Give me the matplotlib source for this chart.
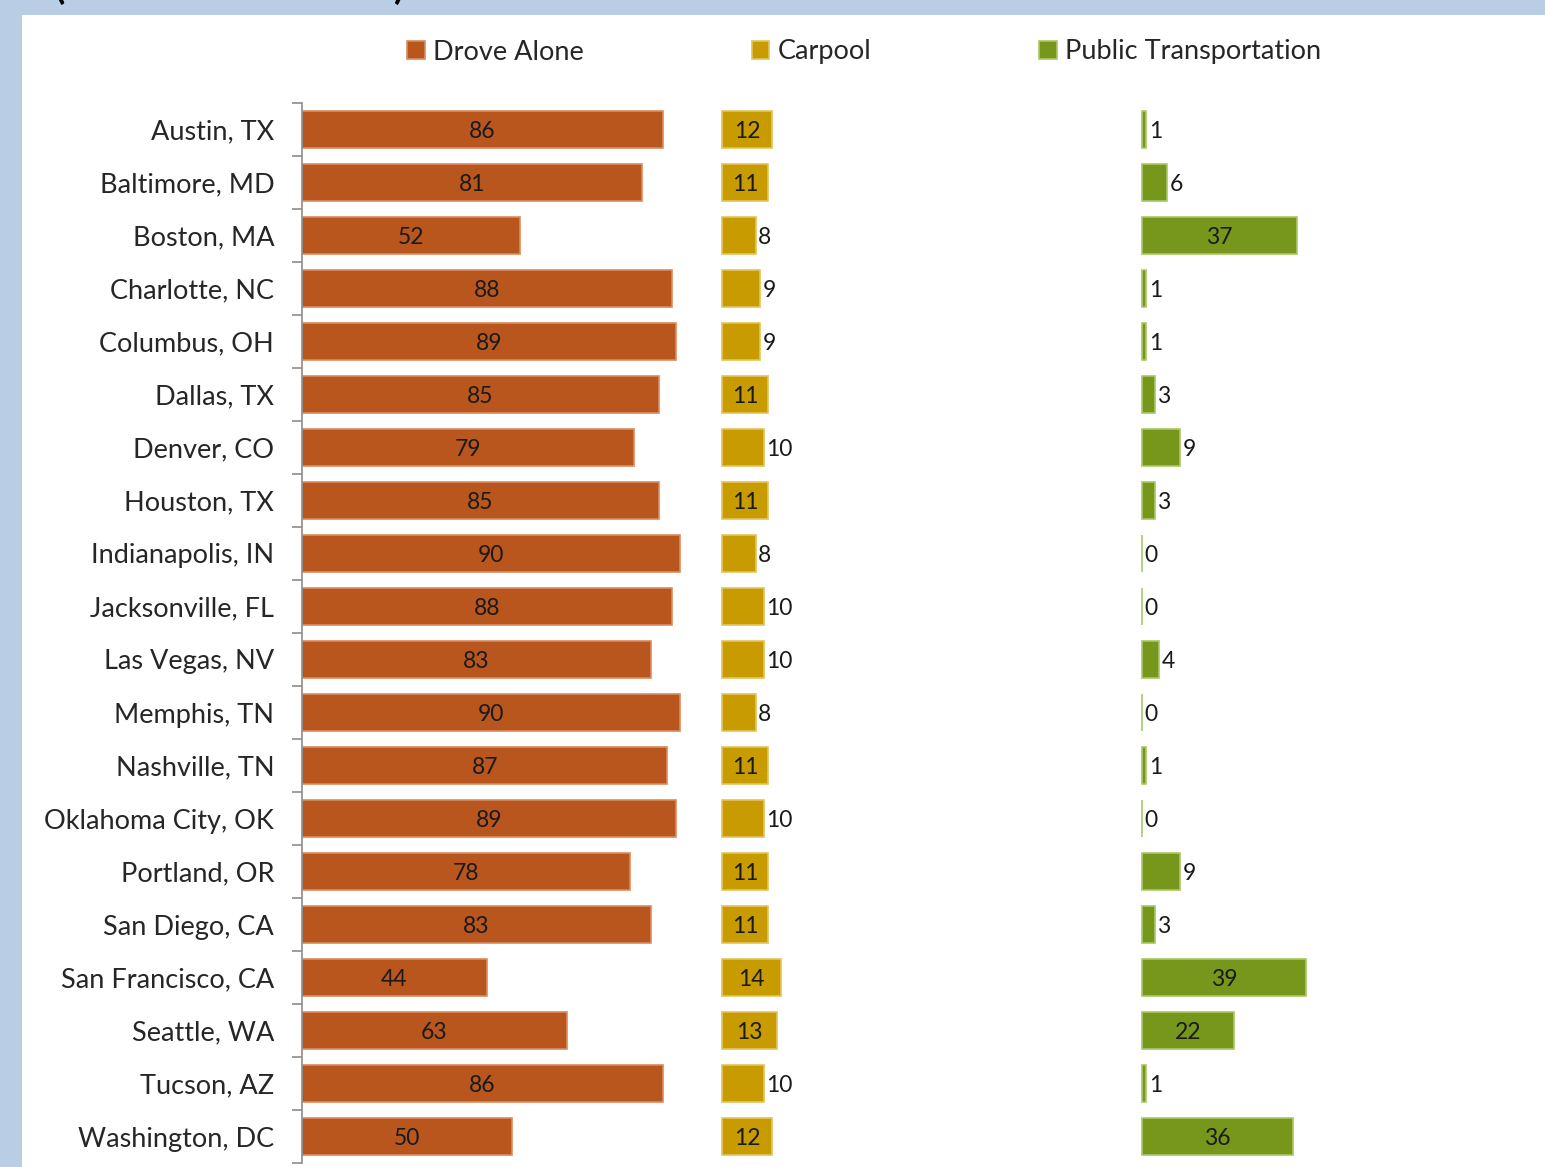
import matplotlib.pyplot as plt
from matplotlib.patches import Rectangle

cities = ["Austin, TX", "Baltimore, MD", "Boston, MA", "Charlotte, NC", "Columbus, OH",
          "Dallas, TX", "Denver, CO", "Houston, TX", "Indianapolis, IN", "Jacksonville, FL",
          "Las Vegas, NV", "Memphis, TN", "Nashville, TN", "Oklahoma City, OK", "Portland, OR",
          "San Diego, CA", "San Francisco, CA", "Seattle, WA", "Tucson, AZ", "Washington, DC"]
drove_alone = [86, 81, 52, 88, 89, 85, 79, 85, 90, 88, 83, 90, 87, 89, 78, 83, 44, 63, 86, 50]
carpool = [12, 11, 8, 9, 9, 11, 10, 11, 8, 10, 10, 8, 11, 10, 11, 11, 14, 13, 10, 12]
public = [1, 6, 37, 1, 1, 3, 9, 3, 0, 0, 4, 0, 1, 0, 9, 3, 39, 22, 1, 36]

series = [("Drove Alone", drove_alone, "#b8561e", "#d98c5e"),
          ("Carpool", carpool, "#c89b00", "#e3c45c"),
          ("Public Transportation", public, "#76971c", "#a9c866")]

W, H = 1545, 1167
plt.rcParams['font.family'] = ['Lato', 'DejaVu Sans']

fig = plt.figure(figsize=(W / 100, H / 100), dpi=100, facecolor="#b9cde5")
fig.patches.append(Rectangle((22 / W, 0), 1 - 22 / W, (H - 15) / H,
                             transform=fig.transFigure, facecolor="white",
                             edgecolor="none", zorder=-5))
# title, mostly cut off at the top
fig.text(55 / W, 1 + 1 / H, "(Percent of Workers)", fontsize=27, fontweight="bold",
         color="black", va="baseline", ha="left")

ax = fig.add_axes([302 / W, 4 / H, 1218 / W, 1060 / H])
ax.set_facecolor("none")
y = list(range(len(cities)))
handles = []
for i, (name, vals, col, edge) in enumerate(series):
    offset = 100 * i
    b = ax.barh(y, vals, left=offset, height=0.7, color=col, edgecolor=edge,
                linewidth=1.2, label=name)
    handles.append(b)
    for yy, v in zip(y, vals):
        if v >= 11:
            ax.text(offset + v / 2, yy, str(v), ha="center", va="center_baseline",
                    fontsize=16.5, color="#1a1a1a")
        else:
            ax.text(offset + v + 0.6, yy, str(v), ha="left", va="center_baseline",
                    fontsize=16.5, color="#1a1a1a")

ax.set_xlim(0, 290)
ax.set_ylim(len(cities) - 0.5, -0.5)
ax.set_yticks(y)
ax.set_yticklabels(cities, fontsize=19.5, color="#262626")
ax.set_yticks([k - 0.5 for k in range(len(cities) + 1)], minor=True)
ax.tick_params(axis="y", which="major", length=0, pad=20)
ax.tick_params(axis="y", which="minor", length=7.5, width=1.2, color="#8c8c8c")
ax.set_xticks([])
for s in ["top", "right", "bottom"]:
    ax.spines[s].set_visible(False)
ax.spines["left"].set_color("#8c8c8c")
ax.spines["left"].set_linewidth(1.2)

fig.legend(handles=handles, loc="center", bbox_to_anchor=(864 / W, 1 - 52 / H),
           ncol=3, frameon=False, fontsize=19.5, handlelength=0.65, handleheight=0.65,
           handletextpad=0.3, columnspacing=6.2, labelcolor="#262626")

fig.savefig("out.png", dpi=100, facecolor=fig.get_facecolor())
